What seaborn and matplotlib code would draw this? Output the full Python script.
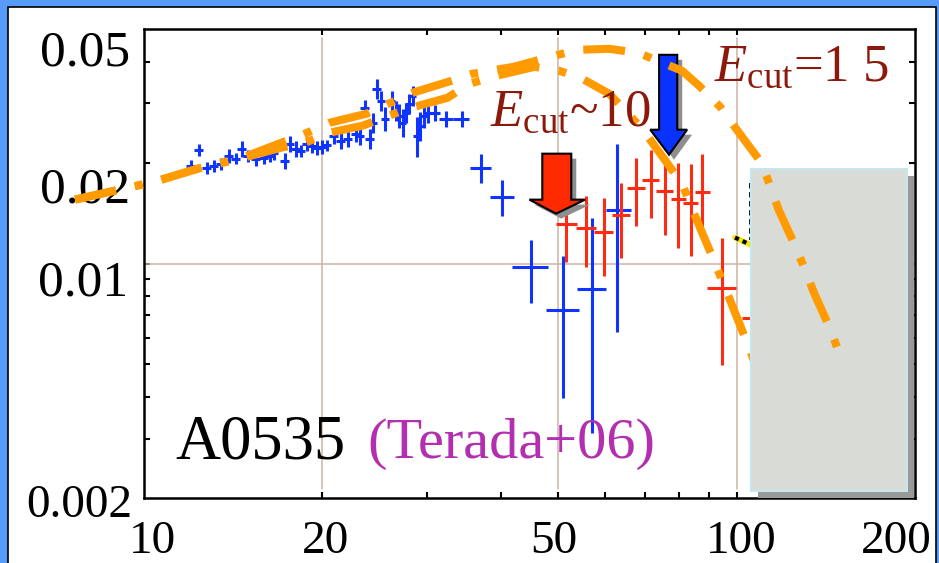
#!/usr/bin/env python3
"""A0535 hard X-ray spectrum (Terada+06) with two cutoff models."""

import numpy as np
import matplotlib
matplotlib.use("Agg")
import matplotlib.pyplot as plt
import matplotlib.patches as mpatches
import matplotlib.transforms as mtransforms
from matplotlib.ticker import FixedLocator, NullFormatter, NullLocator
import seaborn as sns

# ---------------------------------------------------------------------------
# Data (energy in keV, flux in arbitrary nuFnu units)
# ---------------------------------------------------------------------------

# low-energy blue points, symmetric errors
BLUE_E = [12.00, 12.38, 12.77, 13.12, 13.48, 13.91, 14.29, 14.63, 14.97, 15.44,
          15.93, 16.30, 16.56, 17.28, 17.62, 18.03, 18.39, 18.82, 19.19, 19.56,
          19.95, 20.34, 20.90, 21.47, 22.06, 22.76, 23.12, 23.57, 24.03, 24.31,
          24.69, 25.08, 25.47, 26.17, 26.58, 26.89, 27.31, 27.63, 27.95, 28.39,
          28.84, 29.17, 29.63, 30.09, 30.92, 32.39, 34.34]
BLUE_DE = [0.21, 0.22, 0.22, 0.23, 0.23, 0.24, 0.25, 0.25, 0.26, 0.27,
           0.28, 0.28, 0.29, 0.30, 0.30, 0.31, 0.32, 0.33, 0.33, 0.34,
           0.35, 0.35, 0.36, 0.37, 0.38, 0.39, 0.40, 0.40, 0.40, 0.40,
           0.40, 0.40, 0.40, 0.40, 0.40, 0.40, 0.40, 0.40, 0.40, 0.40,
           0.45, 0.45, 0.45, 0.45, 0.72, 0.88, 1.07]
BLUE_F = [0.01957, 0.02184, 0.01931, 0.01957, 0.01985, 0.02096, 0.02054, 0.02199,
          0.02096, 0.02054, 0.02068, 0.02096, 0.02140, 0.02026, 0.02276, 0.02199,
          0.02169, 0.02276, 0.02240, 0.02210, 0.02225, 0.02250, 0.02404, 0.02323,
          0.02355, 0.02437, 0.02404, 0.02913, 0.02355, 0.02628, 0.03317, 0.03056,
          0.02701, 0.03056, 0.02854, 0.02757, 0.02628, 0.02815, 0.02994, 0.03162,
          0.02404, 0.02575, 0.02757, 0.02815, 0.02815, 0.02701, 0.02701]
BLUE_DF = [0.0008, 0.0009, 0.0008, 0.0008, 0.0008, 0.0010, 0.0008, 0.0012,
           0.0009, 0.0010, 0.0009, 0.0009, 0.0010, 0.0011, 0.0012, 0.0012,
           0.0009, 0.0011, 0.0011, 0.0011, 0.0011, 0.0009, 0.0013, 0.0013,
           0.0013, 0.0013, 0.0015, 0.0016, 0.0016, 0.0018, 0.0023, 0.0021,
           0.0022, 0.0021, 0.0020, 0.0023, 0.0025, 0.0019, 0.0021, 0.0022,
           0.0033, 0.0026, 0.0023, 0.0019, 0.0015, 0.0015, 0.0015]

# high-energy blue points, asymmetric errors
BLUE2_E = [37.11, 40.25, 45.03, 50.99, 57.06, 62.89]
BLUE2_ELO = [35.55, 38.29, 41.85, 47.74, 53.84, 60.26]
BLUE2_EHI = [38.58, 42.17, 48.11, 54.27, 60.26, 66.40]
BLUE2_F = [0.01931, 0.01582, 0.00973, 0.00725, 0.00837, 0.01448]
BLUE2_FLO = [0.01742, 0.01390, 0.00760, 0.00397, 0.00312, 0.00623]
BLUE2_FHI = [0.02125, 0.01778, 0.01179, 0.01056, 0.01370, 0.02276]

# red points
RED_E = [51.59, 55.75, 59.79, 63.87, 67.69, 71.74, 75.75, 79.67, 83.80, 87.44, 94.5, 108.2]
RED_ELO = [49.63, 53.63, 57.53, 61.69, 65.37, 69.27, 73.15, 77.54, 81.23, 85.10, 89.16, 102.1]
RED_EHI = [53.84, 57.96, 61.93, 66.14, 70.10, 74.01, 78.13, 82.18, 86.10, 90.19, 99.77, 114.7]
RED_F = [0.01315, 0.01280, 0.01245, 0.01399, 0.01684, 0.01778, 0.01649, 0.01561,
         0.01519, 0.01638, 0.00848, 0.00686]
RED_FLO = [0.01007, 0.00973, 0.00915, 0.01042, 0.01297, 0.01370, 0.01220, 0.01116,
           0.01056, 0.01280, 0.00497, 0.00514]
RED_FHI = [0.01718, 0.01594, 0.01572, 0.01742, 0.02068, 0.02184, 0.02054, 0.01998,
           0.01985, 0.02125, 0.01195, 0.00890]

# model curves
CUT10_E = [7.65, 10.43, 12.33, 14.51, 17.15, 18.53, 20.57, 23.38, 27.85, 32.52, 35.42,
           38.73, 45.58, 50.21, 54.90, 60.96, 69.27, 80.91, 83.8, 92.3, 95.6, 104.9, 113.4]
CUT10_F = [0.01550, 0.01754, 0.01918, 0.02054, 0.02220, 0.02276, 0.02454, 0.02575,
           0.02893, 0.03119, 0.03433, 0.03602, 0.03857, 0.03753, 0.03553, 0.03206,
           0.02522, 0.01730, 0.01478, 0.00986, 0.00848, 0.00562, 0.00391]
CUT15_E = [7.65, 10.43, 12.33, 14.51, 17.15, 18.53, 20.57, 23.75, 28.39, 33.03, 35.83,
           42.02, 49.24, 53.84, 60.96, 68.21, 80.91, 86.44, 93.77, 99.77, 110.4, 114.3,
           117.9, 125.9, 130.4, 135.0, 144.2, 148.8]
CUT15_F = [0.01550, 0.01754, 0.01918, 0.02054, 0.02300, 0.02420, 0.02628, 0.02796,
           0.03228, 0.03504, 0.03677, 0.03857, 0.04159, 0.04334, 0.04364, 0.04246,
           0.03753, 0.03387, 0.02934, 0.02522, 0.01985, 0.01672, 0.01438, 0.01116,
           0.00960, 0.00820, 0.00632, 0.00543]

X_TICKS = [20, 30, 40, 50, 60, 70, 80, 90, 100]
Y_TICKS = [0.003, 0.004, 0.005, 0.006, 0.007, 0.008, 0.009, 0.01, 0.02, 0.03, 0.04]
X_LABEL_VALUES = [10, 20, 50, 100, 200]
X_LABELS = ["10", "20", "50", "100", "200"]
Y_LABEL_VALUES = [0.05, 0.02, 0.01, 0.002]
Y_LABELS = ["0.05", "0.02", "0.01", "0.002"]
GRID_X = [20, 50, 100]
GRID_Y = [0.01]

# ---------------------------------------------------------------------------
# Style
# ---------------------------------------------------------------------------

FRAME_BLUE = "#579BFB"
ORANGE = "#FF9A00"
BLUE = "#1034FF"
RED = "#FF2A12"
DARK_RED = "#8C1A0C"
MAGENTA = "#B22FB0"
GRID = "#CDB3A3"

sns.set_theme(style="ticks")
plt.rcParams.update({
    "font.family": ["Liberation Serif", "DejaVu Serif"],
    "mathtext.fontset": "custom",
    "mathtext.rm": "Liberation Serif",
    "mathtext.it": "Liberation Serif:italic",
    "axes.linewidth": 1.8,
    "axes.edgecolor": "black",
})

fig = plt.figure(figsize=(9.39, 5.63), dpi=100, facecolor=FRAME_BLUE)
panel = mpatches.Rectangle((8 / 939, -0.02), 928 / 939, 1.02 - 7 / 563,
                           transform=fig.transFigure, facecolor="white",
                           edgecolor="black", lw=1.2, zorder=-10)
fig.patches.append(panel)

ax = fig.add_axes([144 / 939, 65 / 563, 771 / 939, 469 / 563])
ax.set_facecolor("white")
ax.set_xscale("log")
ax.set_yscale("log")

# grid lines
for gx in GRID_X:
    ax.axvline(gx, ymin=0.02, ymax=0.98, color=GRID, lw=1.1, zorder=1)
for gy in GRID_Y:
    ax.axhline(gy, color=GRID, lw=1.1, zorder=1)

# data
ax.errorbar(BLUE_E, BLUE_F, xerr=BLUE_DE, yerr=BLUE_DF, fmt="none",
            ecolor=BLUE, elinewidth=2.2, capsize=0, zorder=3)
b2e, b2f = np.array(BLUE2_E), np.array(BLUE2_F)
ax.errorbar(b2e, b2f,
            xerr=[b2e - np.array(BLUE2_ELO), np.array(BLUE2_EHI) - b2e],
            yerr=[b2f - np.array(BLUE2_FLO), np.array(BLUE2_FHI) - b2f],
            fmt="none", ecolor=BLUE, elinewidth=2.2, capsize=0, zorder=3)
re, rf = np.array(RED_E), np.array(RED_F)
ax.errorbar(re, rf,
            xerr=[re - np.array(RED_ELO), np.array(RED_EHI) - re],
            yerr=[rf - np.array(RED_FLO), np.array(RED_FHI) - rf],
            fmt="none", ecolor=RED, elinewidth=2.2, capsize=0, zorder=3)

# model curves (dash-dot, running off the left edge as on the slide)
DASHDOT = (0, (5.2, 2.4, 1.0, 2.4))
for xs, ys, z in [(CUT10_E, CUT10_F, 5), (CUT15_E, CUT15_F, 6)]:
    sns.lineplot(x=xs, y=ys, ax=ax, sort=False, estimator=None,
                 color=ORANGE, lw=5.8)
    ln = ax.lines[-1]
    ln.set_linestyle(DASHDOT)
    ln.set_dash_capstyle("butt")
    ln.set_clip_on(False)
    ln.set_zorder(z)

# leftover slide shape next to the grey box
ax.plot([99.4, 105.3], [0.01195, 0.01139], color="#F2E600", lw=4, zorder=5.1)
ax.plot([99.4, 105.3], [0.01195, 0.01139], color="black", lw=3,
        ls=(0, (1, 1)), zorder=5.15)
ax.plot([105.3, 105.3], [0.01742, 0.01171], color="black", lw=1.3,
        ls=(0, (3, 2)), zorder=5.1)

# grey box with drop shadow
BOX = (105.8, 0.002097, 193.6, 0.01918)
shadow_tr = mtransforms.offset_copy(ax.transData, fig=fig, x=7, y=-7, units="dots")
ax.add_patch(mpatches.Rectangle((BOX[0], BOX[1]), BOX[2] - BOX[0], BOX[3] - BOX[1],
                                transform=shadow_tr, facecolor="#999999",
                                edgecolor="none", zorder=5.3, clip_on=False))
ax.add_patch(mpatches.Rectangle((BOX[0], BOX[1]), BOX[2] - BOX[0], BOX[3] - BOX[1],
                                facecolor="#D9DCD6", edgecolor="#C4E6EC",
                                lw=1.5, zorder=5.5, clip_on=False))


def block_arrow(color, x0, x1, hx0, hx1, xtip, ytop, yhead, ytip):
    verts = [(x0, ytop), (x1, ytop), (x1, yhead), (hx1, yhead),
             (xtip, ytip), (hx0, yhead), (x0, yhead)]
    sh_tr = mtransforms.offset_copy(ax.transData, fig=fig, x=5, y=-5, units="dots")
    ax.add_patch(mpatches.Polygon(verts, closed=True, transform=sh_tr,
                                  facecolor="#8E8E8E", edgecolor="none", zorder=4.4))
    ax.add_patch(mpatches.Polygon(verts, closed=True, facecolor=color,
                                  edgecolor="black", lw=1.5, zorder=4.5))


block_arrow("#FF2A00", 47.0, 52.6, 44.7, 55.5, 49.6, 0.02125, 0.01550, 0.01408)
block_arrow("#0A32FF", 74.0, 79.4, 71.5, 82.5, 76.9, 0.04188, 0.02505, 0.02110)

# labels on the slide
ax.text(38.29, 0.02575, r"$E_{\mathrm{cut}}$~10", fontsize=38, color=DARK_RED,
        ha="left", va="baseline", zorder=7)
ax.text(91.6, 0.03504, r"$E_{\mathrm{cut}}$=1 5", fontsize=38, color=DARK_RED,
        ha="left", va="baseline", zorder=7)
ax.text(11.28, 0.002628, "A0535", fontsize=45, color="black",
        ha="left", va="baseline", zorder=7)
ax.text(23.84, 0.002628, "(Terada+06)", fontsize=42, color=MAGENTA,
        ha="left", va="baseline", zorder=7)

# axes, ticks
ax.set_xlim(10, 200)
ax.set_ylim(0.002, 0.05)
ax.set_xlabel("")
ax.set_ylabel("")
ax.xaxis.set_major_locator(FixedLocator(X_TICKS))
ax.xaxis.set_major_formatter(NullFormatter())
ax.xaxis.set_minor_locator(NullLocator())
ax.yaxis.set_major_locator(FixedLocator(Y_TICKS))
ax.yaxis.set_major_formatter(NullFormatter())
ax.yaxis.set_minor_locator(NullLocator())
ax.tick_params(which="major", direction="in", length=4.3, width=1.5,
               color="black", top=True, right=True)
for sp in ax.spines.values():
    sp.set_color("black")
    sp.set_linewidth(1.8)
    sp.set_zorder(2.5)

# hand-placed tick labels (slide text boxes)
y_offsets = [(-10, -26), (-10, -29), (-11.5, -23), (-8.6, -13.7)]
y_sizes = [37, 37, 37, 34]
for val, lab, (dx, dy), fs in zip(Y_LABEL_VALUES, Y_LABELS, y_offsets, y_sizes):
    ax.annotate(lab, xy=(0, val), xycoords=ax.get_yaxis_transform(),
                xytext=(dx, dy), textcoords="offset points", ha="right",
                va="baseline", fontsize=fs, color="black", zorder=3)

x_offsets = [5.8, 2, -3, 3, -13.7]
clip = mtransforms.TransformedBbox(mtransforms.Bbox([[0, 0], [935 / 939, 1]]),
                                   fig.transFigure)
for val, lab, dx in zip(X_LABEL_VALUES, X_LABELS, x_offsets):
    t = ax.annotate(lab, xy=(val, 0), xycoords=ax.get_xaxis_transform(),
                    xytext=(dx, -39.5), textcoords="offset points", ha="center",
                    va="baseline", fontsize=34, color="black", zorder=3)
    t.set_clip_box(clip)
    t.set_clip_on(True)

fig.savefig("out.png", dpi=100, facecolor=FRAME_BLUE)
